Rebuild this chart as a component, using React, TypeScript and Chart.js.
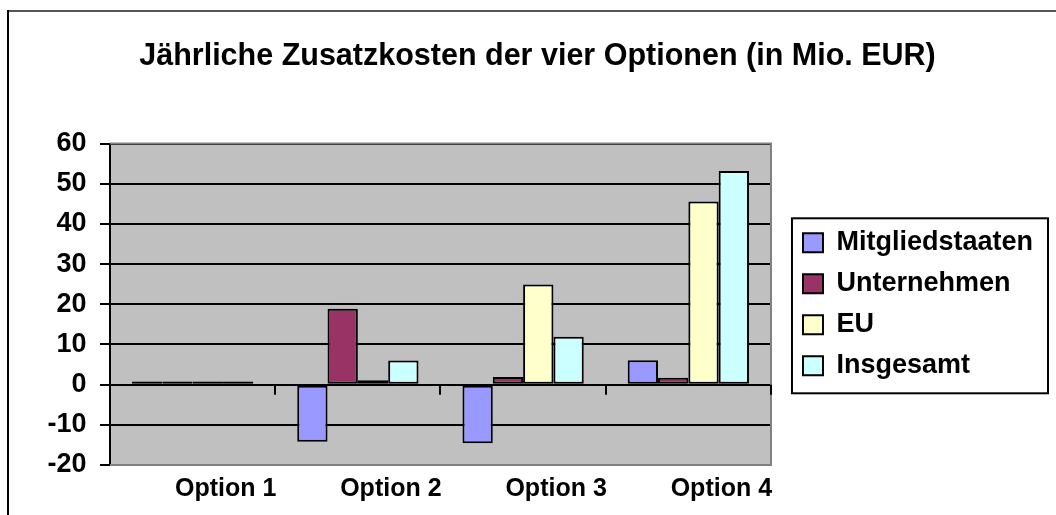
import React, { useEffect, useRef } from 'react';
import { Chart, registerables } from 'chart.js';

Chart.register(...registerables);

const titleText = 'Jährliche Zusatzkosten der vier Optionen (in Mio. EUR)';
const categories = ['Option 1', 'Option 2', 'Option 3', 'Option 4'];
const seriesNames = ['Mitgliedstaaten', 'Unternehmen', 'EU', 'Insgesamt'];
const mitgliedstaaten = [0.8, -14.2, -14.6, 6.1];
const unternehmen = [0.8, 18.9, 1.9, 1.7];
const eu = [0.8, 1.1, 24.9, 45.6];
const insgesamt = [0.8, 6.0, 11.9, 53.2];
const seriesColors = ['#9999FF', '#993366', '#FFFFCC', '#CCFFFF'];
const yMin = -20;
const yMax = 60;
const yStep = 10;

const FONT = "'Liberation Sans', Arial, sans-serif";

const decorPlugin = {
  id: 'decor',
  beforeDraw(chart: any) {
    const { ctx, chartArea } = chart;
    ctx.save();
    ctx.fillStyle = '#ffffff';
    ctx.fillRect(0, 0, chart.width, chart.height);
    // outer frame (left + top visible)
    ctx.fillStyle = '#555555';
    ctx.fillRect(7, 10, chart.width - 7, 2);
    ctx.fillStyle = '#000000';
    ctx.fillRect(7, 10, 2, chart.height - 10);
    // plot area background
    ctx.fillStyle = '#C0C0C0';
    ctx.fillRect(chartArea.left, chartArea.top, chartArea.right - chartArea.left, chartArea.bottom - chartArea.top);
    ctx.restore();
  },
  afterDraw(chart: any) {
    const { ctx, chartArea } = chart;
    const xs = chart.scales.x;
    const ys = chart.scales.y;
    ctx.save();
    // plot area border (top, right, bottom) in gray
    ctx.strokeStyle = '#808080';
    ctx.lineWidth = 2;
    ctx.beginPath();
    ctx.moveTo(chartArea.left, chartArea.top);
    ctx.lineTo(chartArea.right, chartArea.top);
    ctx.lineTo(chartArea.right, chartArea.bottom);
    ctx.lineTo(chartArea.left, chartArea.bottom);
    ctx.stroke();
    // category tick marks along the zero line
    const y0 = ys.getPixelForValue(0);
    ctx.strokeStyle = '#000000';
    ctx.lineWidth = 2;
    ctx.beginPath();
    for (let i = 0; i <= categories.length; i++) {
      const x = Math.round(xs.getPixelForValue(i - 0.5));
      ctx.moveTo(x, y0);
      ctx.lineTo(x, y0 + 10);
    }
    ctx.stroke();
    // legend border
    const lg = chart.legend;
    if (lg && lg.legendHitBoxes && lg.legendHitBoxes.length) {
      const hb = lg.legendHitBoxes;
      let minL = Infinity, maxR = -Infinity;
      hb.forEach((h: any) => {
        minL = Math.min(minL, h.left);
        maxR = Math.max(maxR, h.left + h.width);
      });
      const top = hb[0].top - 11;
      const bottom = hb[hb.length - 1].top + hb[hb.length - 1].height + 14;
      ctx.strokeStyle = '#000000';
      ctx.lineWidth = 2;
      ctx.strokeRect(minL - 11, top, maxR - minL + 26, bottom - top);
    }
    ctx.restore();
  },
};

export default function App() {
  const canvasRef = useRef<HTMLCanvasElement | null>(null);

  useEffect(() => {
    if (!canvasRef.current) return;
    Chart.defaults.color = '#000000';
    const values = [mitgliedstaaten, unternehmen, eu, insgesamt];
    const chart = new Chart(canvasRef.current, {
      type: 'bar',
      data: {
        labels: categories,
        datasets: seriesNames.map((name, i) => ({
          label: name,
          data: values[i],
          backgroundColor: seriesColors[i],
          borderColor: '#000000',
          borderWidth: 2,
          borderSkipped: false,
          categoryPercentage: 0.734,
          barPercentage: 1.0,
        })),
      },
      options: {
        animation: false,
        responsive: false,
        maintainAspectRatio: false,
        devicePixelRatio: 1,
        layout: { padding: { left: 32, right: 13, top: 11, bottom: 0 } },
        plugins: {
          title: {
            display: true,
            text: titleText,
            color: '#000000',
            font: { family: FONT, size: 30.5, weight: 'bold', lineHeight: 1.2 },
            padding: { top: 27, bottom: 69 },
          },
          legend: {
            display: true,
            position: 'right',
            fullSize: false,
            align: 'center',
            maxWidth: 400,
            labels: {
              color: '#000000',
              font: { family: FONT, size: 27, weight: 'bold' },
              boxWidth: 20,
              boxHeight: 19,
              padding: 14,
            },
          },
          tooltip: { enabled: false },
        },
        scales: {
          x: {
            type: 'category',
            offset: true,
            grid: { display: false, drawTicks: false },
            border: { display: false },
            ticks: {
              color: '#000000',
              font: { family: FONT, size: 25, weight: 'bold' },
              padding: 9,
              labelOffset: 33,
              autoSkip: false,
              maxRotation: 0,
              minRotation: 0,
            },
            afterFit: (s: any) => { s.height = 50; },
          },
          y: {
            type: 'linear',
            min: yMin,
            max: yMax,
            ticks: {
              stepSize: yStep,
              color: '#000000',
              font: { family: FONT, size: 27, weight: 'bold' },
              padding: 13.5,
            },
            grid: { color: '#000000', lineWidth: 2, tickLength: 10, drawTicks: true },
            border: { display: true, color: '#000000', width: 2 },
            afterFit: (s: any) => { s.width = 78; },
          },
          y2: {
            type: 'linear',
            position: 'right',
            display: true,
            grid: { display: false, drawTicks: false },
            border: { display: false },
            ticks: { display: false },
            afterFit: (s: any) => { s.width = 18; },
          },
        },
      },
      plugins: [decorPlugin],
    } as any);
    return () => chart.destroy();
  }, []);

  return (
    <div style={{ position: 'fixed', left: 0, top: 0, width: 1056, height: 515, background: '#ffffff' }}>
      <canvas ref={canvasRef} width={1056} height={515} style={{ display: 'block' }} />
    </div>
  );
}
